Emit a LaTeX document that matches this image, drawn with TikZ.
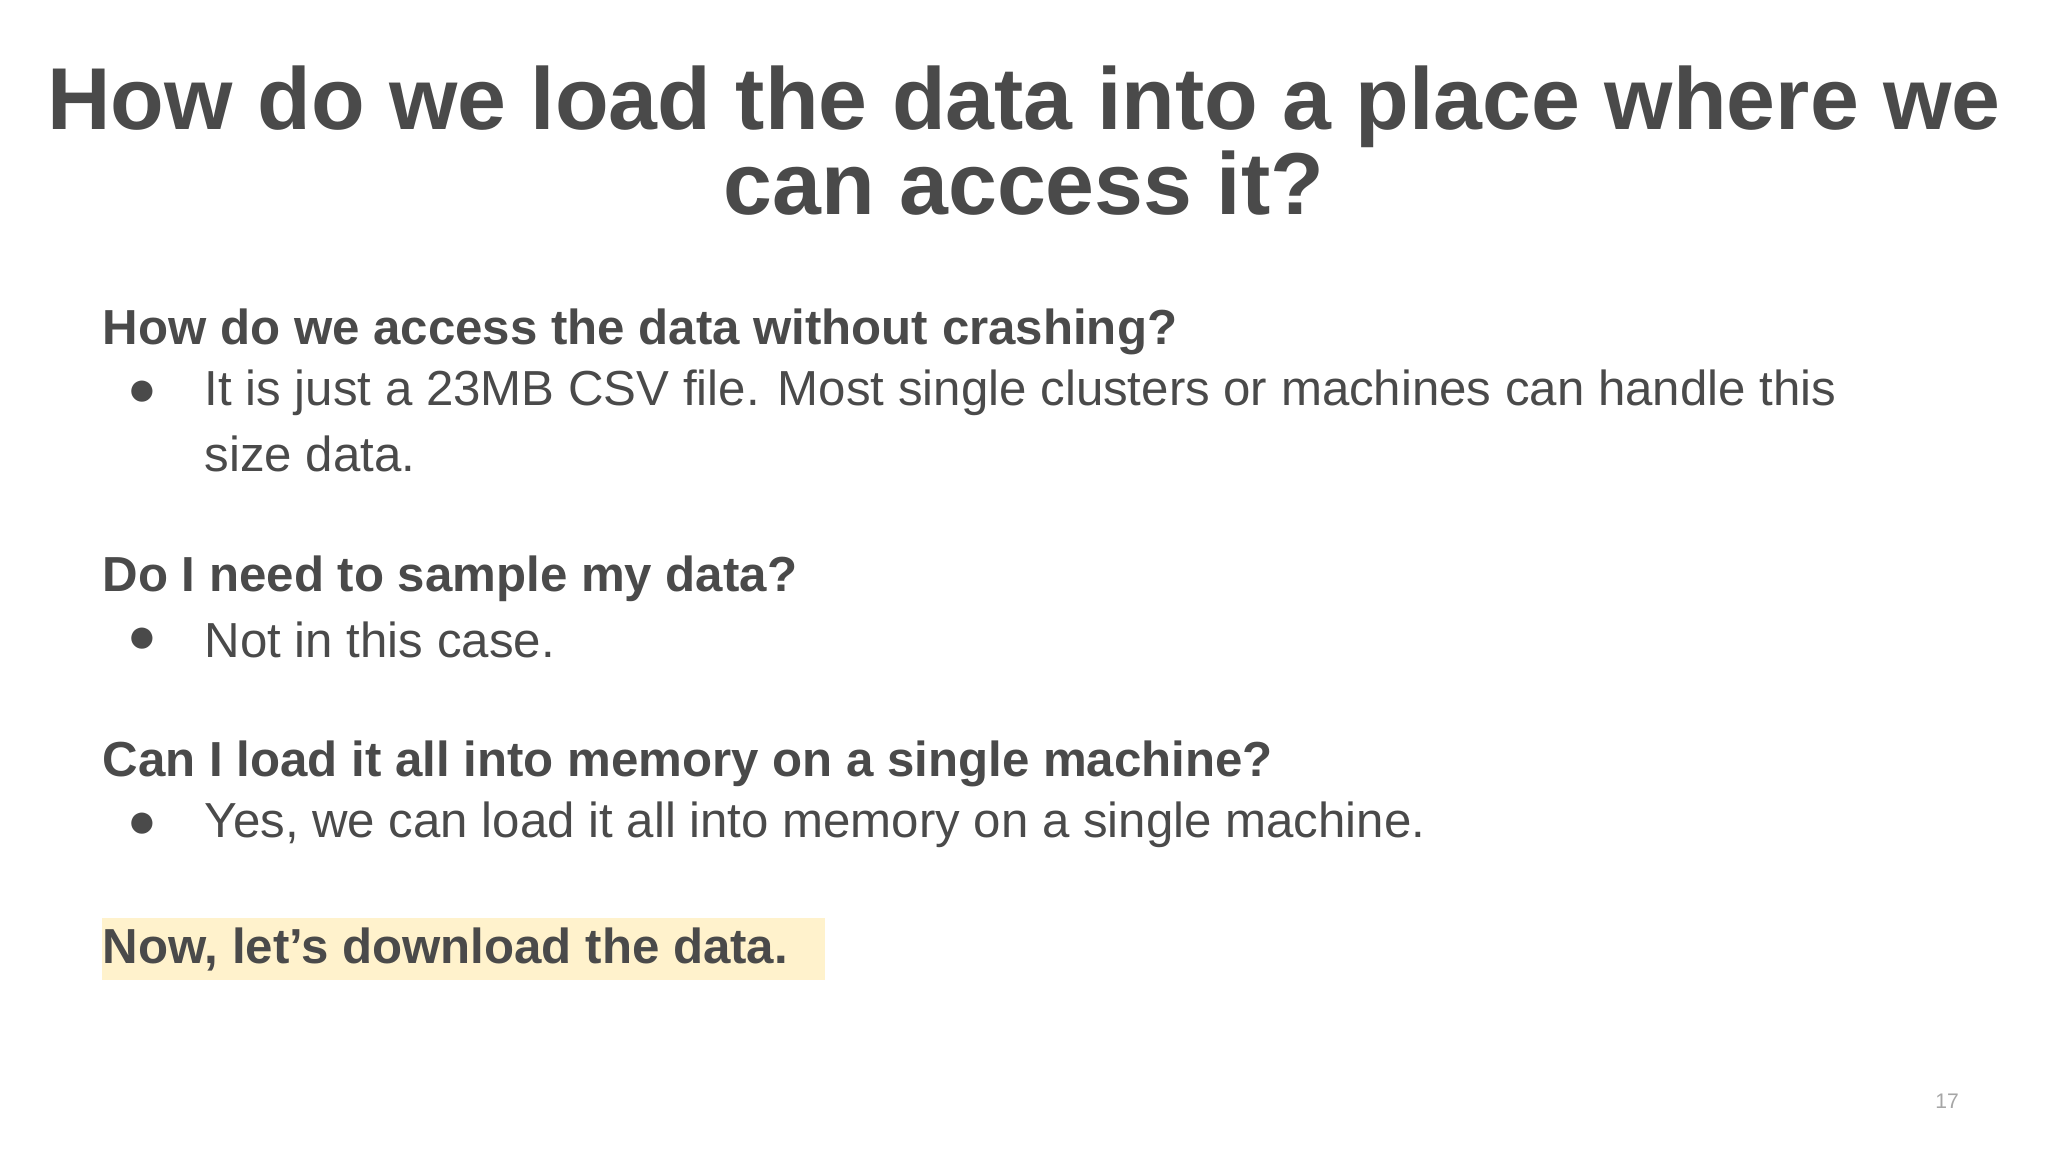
\documentclass[tikz,border=0pt]{standalone}
\usepackage{fontspec}
\setmainfont{Liberation Sans}
\definecolor{tx}{HTML}{4A4A4A}
\definecolor{hl}{HTML}{FFF2CC}
\begin{document}
\begin{tikzpicture}[x=1cm,y=-1cm,
  ttl/.style={font=\fontsize{25}{30}\selectfont\bfseries,text=tx,inner sep=0},
  hd/.style={font=\fontsize{14}{17}\selectfont\bfseries,text=tx,anchor=west,inner sep=0},
  bt/.style={font=\fontsize{14}{17}\selectfont,text=tx,anchor=west,inner sep=0}]
\useasboundingbox[fill=white] (0,0) rectangle (20.48,11.52);
\node[ttl] (t1) at (10.24,1.07) {How do we load the data into a place where we};
\node[ttl] (t2) at (10.24,1.83) {can access it?};
\node[hd] (h1) at (1.02,3.32) {How do we access the data without crashing?};
\node[bt] (b1) at (1.27,3.93) {●};
\node[bt] (s1) at (2.04,3.93) {It is just a 23MB CSV file. Most single clusters or machines can handle this};
\node[bt] (s1b) at (2.04,4.54) {size data.};
\node[hd] (h2) at (1.02,5.79) {Do I need to sample my data?};
\node[bt] (b2) at (1.27,6.40) {●};
\node[bt] (s2) at (2.04,6.40) {Not in this case.};
\node[hd] (h3) at (1.02,7.64) {Can I load it all into memory on a single machine?};
\node[bt] (b3) at (1.27,8.25) {●};
\node[bt] (s3) at (2.04,8.25) {Yes, we can load it all into memory on a single machine.};
\fill[hl] (1.02,9.18) rectangle (8.25,9.80);
\node[hd] (h4) at (1.02,9.49) {Now, let’s download the data.};
\node[font=\fontsize{6}{7}\selectfont,text=gray!70,inner sep=0] (pg) at (19.47,11.01) {17};
\end{tikzpicture}
\end{document}
